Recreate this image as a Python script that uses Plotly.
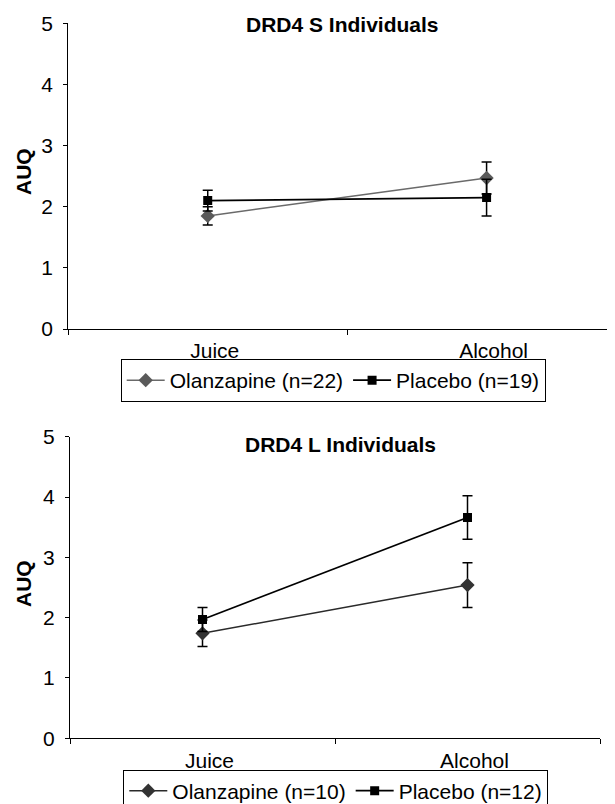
import plotly.graph_objects as go

categories = ["Juice", "Alcohol"]

# DRD4 S Individuals
s_olanz = [1.85, 2.47]
s_olanz_err = [0.15, 0.26]
s_placebo = [2.10, 2.15]
s_placebo_err = [0.17, 0.30]

# DRD4 L Individuals
l_olanz = [1.74, 2.54]
l_olanz_err = [0.22, 0.37]
l_placebo = [1.97, 3.66]
l_placebo_err = [0.20, 0.36]

names_s = ["Olanzapine (n=22)", "Placebo (n=19)"]
names_l = ["Olanzapine (n=10)", "Placebo (n=12)"]
y_ticks = [0, 1, 2, 3, 4, 5]

FONT = "Liberation Sans, Arial, sans-serif"
FS = 21

# the html page body has an 8px margin; size the figure to fill the window
OFF = 8
W, H = 615 - OFF, 804 - OFF


def px(x):
    return (x - OFF) / W


def py(y):
    return 1 - (y - OFF) / H


fig = go.Figure()


def add_pair(olz, olz_err, plc, plc_err, names, xa, ya, legend, olz_color, olz_line):
    fig.add_trace(go.Scatter(
        x=categories, y=olz, name=names[0], mode="lines+markers",
        xaxis=xa, yaxis=ya, legend=legend,
        line=dict(color=olz_line, width=1.5),
        marker=dict(symbol="diamond", size=11, color=olz_color),
        error_y=dict(type="data", array=olz_err, visible=True,
                     color="black", thickness=1.5, width=5),
    ))
    fig.add_trace(go.Scatter(
        x=categories, y=plc, name=names[1], mode="lines+markers",
        xaxis=xa, yaxis=ya, legend=legend,
        line=dict(color="black", width=1.8),
        marker=dict(symbol="square", size=9, color="black"),
        error_y=dict(type="data", array=plc_err, visible=True,
                     color="black", thickness=1.5, width=5),
    ))


add_pair(s_olanz, s_olanz_err, s_placebo, s_placebo_err, names_s,
         "x", "y", "legend", "#5a5a5a", "#6a6a6a")
add_pair(l_olanz, l_olanz_err, l_placebo, l_placebo_err, names_l,
         "x2", "y2", "legend2", "#333333", "#2a2a2a")

xaxis_common = dict(
    type="category", categoryorder="array", categoryarray=categories,
    showline=True, linecolor="black", linewidth=1.3,
    ticks="outside", ticklen=5, tickcolor="black", tickwidth=1.2,
    tickson="boundaries", showgrid=False, zeroline=False,
    tickfont=dict(family=FONT, size=FS, color="black"),
    ticklabelstandoff=3, ticklabelshift=7,
)
yaxis_common = dict(
    range=[0, 5], tickvals=y_ticks,
    showline=True, linecolor="black", linewidth=1.3,
    ticks="outside", ticklen=4, tickcolor="black", tickwidth=1.2,
    showgrid=False, zeroline=False,
    tickfont=dict(family=FONT, size=FS, color="black"),
    ticklabelstandoff=6,
)

top_y = [py(329), py(23.3)]
bot_y = [py(738.3), py(436.7)]

# top x axis runs past the right edge of the page
top_left, top_right_full = 68.3, 626.0
top_range_end = -0.5 + 2.0 * (615 - top_left) / (top_right_full - top_left)

legend_common = dict(
    orientation="h", xanchor="left", yanchor="top",
    bordercolor="black", borderwidth=1, bgcolor="white",
    font=dict(family=FONT, size=FS, color="black"),
    itemwidth=38, tracegroupgap=0,
)

fig.update_layout(
    width=W, height=H,
    margin=dict(l=0, r=0, t=0, b=0, autoexpand=False),
    paper_bgcolor="white", plot_bgcolor="white",
    showlegend=True,
    xaxis=dict(domain=[px(top_left), 1.0], range=[-0.5, top_range_end], anchor="y", **xaxis_common),
    yaxis=dict(domain=top_y, anchor="x", **yaxis_common),
    xaxis2=dict(domain=[px(70), px(600)], range=[-0.5, 1.5], anchor="y2", **xaxis_common),
    yaxis2=dict(domain=bot_y, anchor="x2", **yaxis_common),
    legend=dict(x=px(120.7), y=py(359), **legend_common),
    legend2=dict(x=px(123.3), y=py(769.5), **legend_common),
    annotations=[
        dict(text="<b>DRD4 S Individuals</b>", x=px(342), y=py(25),
             xref="paper", yref="paper", showarrow=False,
             xanchor="center", yanchor="middle",
             font=dict(family=FONT, size=FS, color="black")),
        dict(text="<b>DRD4 L Individuals</b>", x=px(341), y=py(444),
             xref="paper", yref="paper", showarrow=False,
             xanchor="center", yanchor="middle",
             font=dict(family=FONT, size=FS, color="black")),
        dict(text="<b>AUQ</b>", x=px(23), y=py(172),
             xref="paper", yref="paper", showarrow=False, textangle=-90,
             xanchor="center", yanchor="middle",
             font=dict(family=FONT, size=FS, color="black")),
        dict(text="<b>AUQ</b>", x=px(23), y=py(584),
             xref="paper", yref="paper", showarrow=False, textangle=-90,
             xanchor="center", yanchor="middle",
             font=dict(family=FONT, size=FS, color="black")),
    ],
)

fig.write_html("out.html")
